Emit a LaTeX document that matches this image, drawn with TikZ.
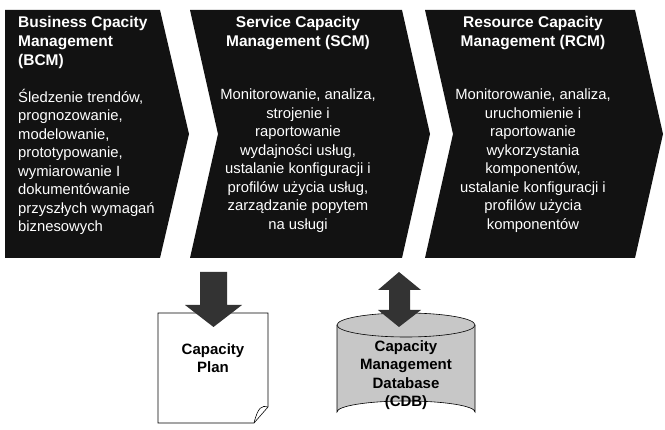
\documentclass[tikz,border=0pt]{standalone}
\usepackage{fontspec}
\setmainfont{Liberation Sans}
\usetikzlibrary{positioning,shapes.geometric}
\begin{document}
\begin{tikzpicture}[x=1pt,y=-1pt,
  chev/.style = {fill=black!93},
  head/.style = {text=white, font=\bfseries\fontsize{15.5}{19}\selectfont, align=center},
  body/.style = {text=white, font=\fontsize{14.8}{18.5}\selectfont, align=center},
  arr/.style = {fill=black!80}]
\useasboundingbox (0,0) rectangle (665,430);

% chevrons
\fill[chev] (5,10) -- (160,10) -- (189,134) -- (160,258) -- (5,258) -- cycle;
\fill[chev] (190,10) -- (402,10) -- (430,134) -- (402,258) -- (190,258) -- (218,134) -- cycle;
\fill[chev] (425,10) -- (635,10) -- (663,134) -- (635,258) -- (425,258) -- (453,134) -- cycle;

\node[head, align=left, anchor=north west, inner sep=0pt] (bcmh) at (18,16) {Business Cpacity\\Management\\(BCM)};
\node[body, align=left, anchor=north west, inner sep=0pt] (bcmb) at (18,89) {Śledzenie trendów,\\prognozowanie,\\modelowanie,\\prototypowanie,\\wymiarowanie I\\dokumentówanie\\przyszłych wymagań\\biznesowych};

\node[head, anchor=north, inner sep=0pt] (scmh) at (298,16) {Service Capacity\\Management (SCM)};
\node[body, anchor=north, inner sep=0pt] (scmb) at (298,89) {Monitorowanie, analiza,\\strojenie i\\raportowanie\\wydajności usług,\\ustalanie konfiguracji i\\profilów użycia usług,\\zarządzanie popytem\\na usługi};

\node[head, anchor=north, inner sep=0pt] (rcmh) at (533,16) {Resource Capacity\\Management (RCM)};
\node[body, anchor=north, inner sep=0pt] (rcmb) at (533,89) {Monitorowanie, analiza,\\uruchomienie i\\raportowanie\\wykorzystania\\komponentów,\\ustalanie konfiguracji i\\profilów użycia\\komponentów};

% capacity plan
\draw[fill=white, line width=0.6pt] (158,313) -- (268,313) -- (268,407) -- (254,423) -- (158,423) -- cycle;
\draw[line width=0.6pt] (268,407) .. controls (262,405) and (258,407) .. (254,423);
\node[font=\bfseries\fontsize{15}{18.5}\selectfont, align=center] (plan) at (213,358) {Capacity\\Plan};

% database
\draw[fill=black!22, line width=0.6pt] (337,325) -- (337,412) arc[start angle=180, end angle=360, x radius=69, y radius=11] -- (475,325);
\draw[fill=black!22, line width=0.6pt] (406,325) ellipse[x radius=69, y radius=12];
\node[font=\bfseries\fontsize{15}{18.5}\selectfont, align=center] (cdb) at (406,375) {Capacity\\Management\\Database\\(CDB)};

% arrows
\fill[arr] (200,272) -- (227,272) -- (227,305) -- (242,305) -- (213.5,327) -- (185,305) -- (200,305) -- cycle;
\fill[arr] (399,272) -- (421,290) -- (410,290) -- (410,310) -- (421,310) -- (399,327) -- (378,310) -- (389,310) -- (389,290) -- (378,290) -- cycle;
\end{tikzpicture}
\end{document}
